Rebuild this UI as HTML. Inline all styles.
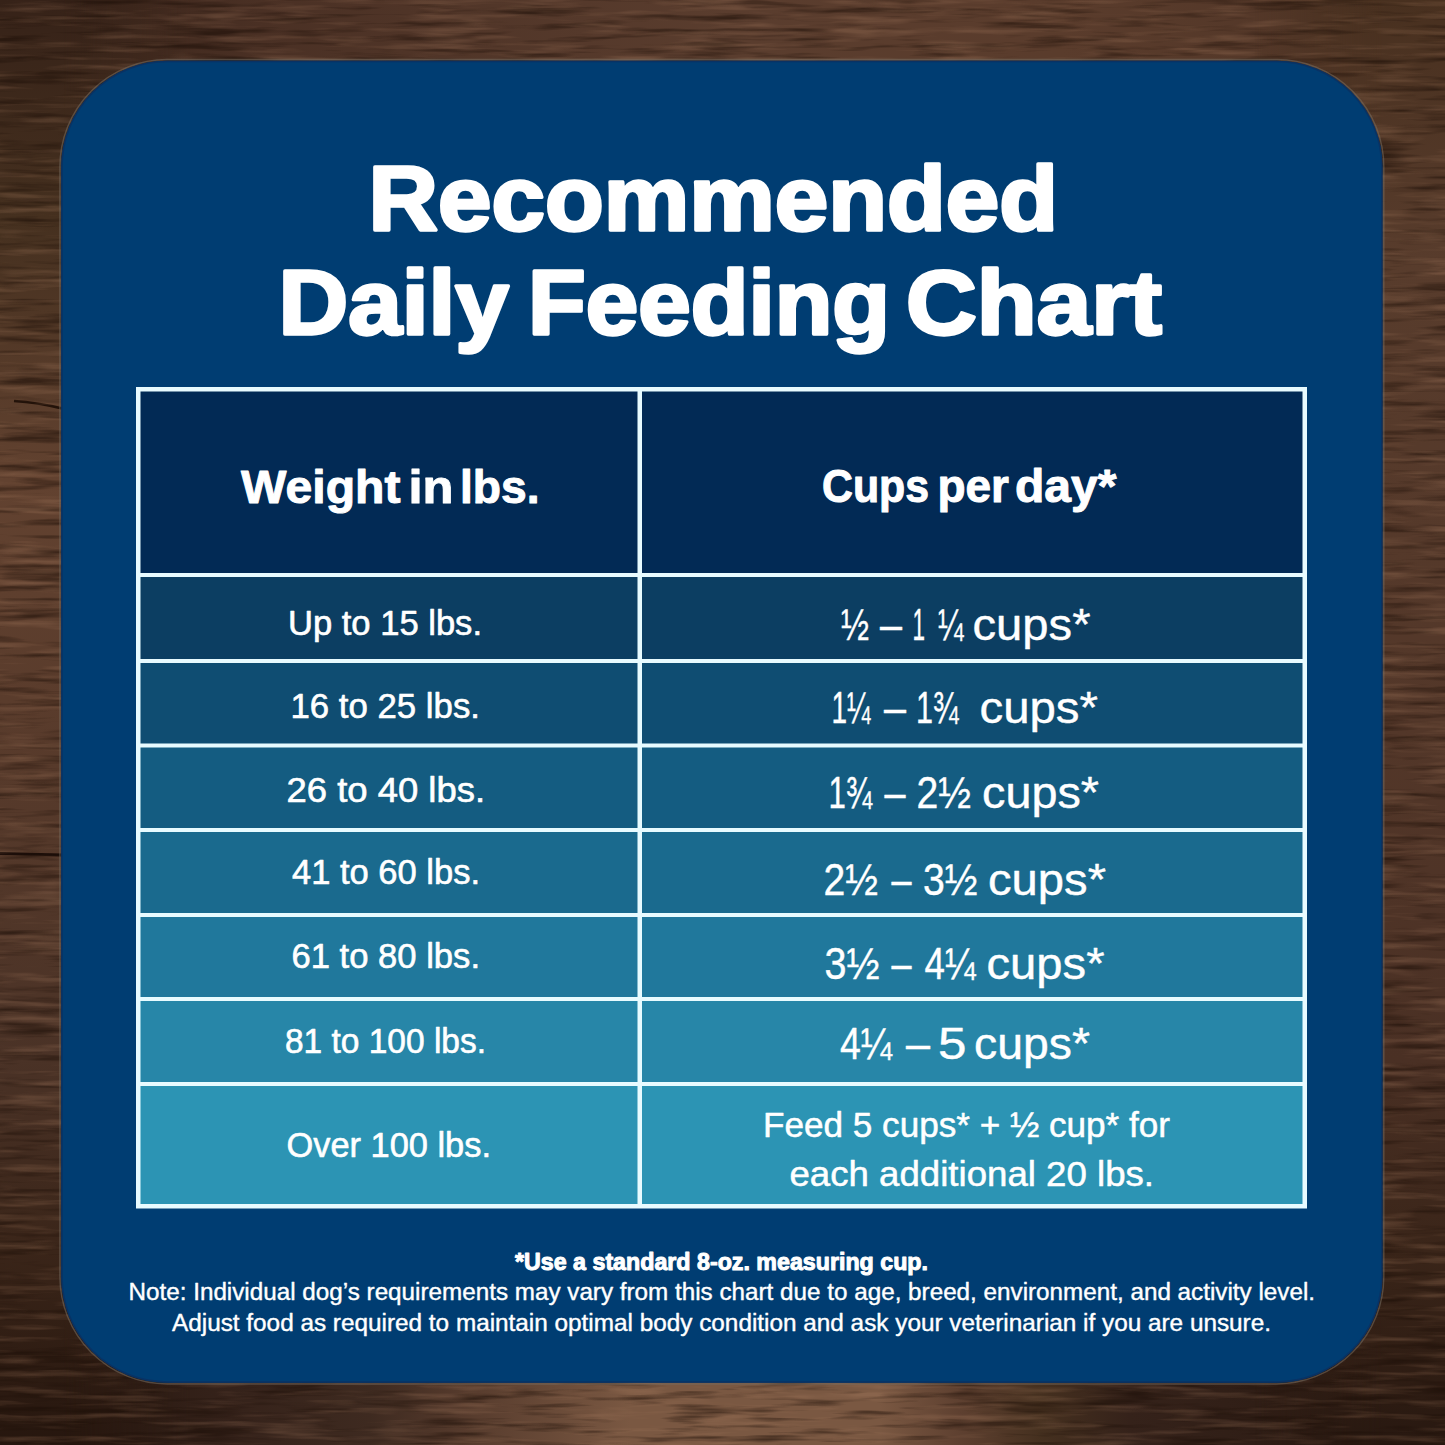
<!DOCTYPE html>
<html><head><meta charset="utf-8">
<style>
html,body{margin:0;padding:0;width:1445px;height:1445px;overflow:hidden;background:#5e3f2e}
svg{display:block}
text{font-family:"Liberation Sans",sans-serif;fill:#fff;stroke:#fff;stroke-linejoin:round}
.b{font-weight:bold}
</style></head><body>
<svg width="1445" height="1445" viewBox="0 0 1445 1445">
<defs>
<filter id="soft" x="-20%" y="-20%" width="140%" height="140%"><feGaussianBlur stdDeviation="20"/></filter>
<filter id="grainD" x="0" y="0" width="100%" height="100%" color-interpolation-filters="sRGB">
<feTurbulence type="fractalNoise" baseFrequency="0.012 0.14" numOctaves="3" seed="11" result="n"/>
<feColorMatrix in="SourceGraphic" type="matrix" values="1 0 0 0 0  0 1 0 0 0  0 0 1 0 0  0 0 0 0 1" result="c"/>
<feColorMatrix in="n" type="matrix" values="0 0 0 0 0  0 0 0 0 0  0 0 0 0 0  -3 0 0 0 1.5" result="a"/>
<feComposite in="c" in2="a" operator="in"/>
</filter>
<filter id="grainL" x="0" y="0" width="100%" height="100%" color-interpolation-filters="sRGB">
<feTurbulence type="fractalNoise" baseFrequency="0.012 0.14" numOctaves="3" seed="23" result="n"/>
<feColorMatrix in="SourceGraphic" type="matrix" values="1 0 0 0 0  0 1 0 0 0  0 0 1 0 0  0 0 0 0 1" result="c"/>
<feColorMatrix in="n" type="matrix" values="0 0 0 0 0  0 0 0 0 0  0 0 0 0 0  3 0 0 0 -1.5" result="a"/>
<feComposite in="c" in2="a" operator="in"/>
</filter>
</defs>


<defs><linearGradient id="gt" gradientUnits="userSpaceOnUse" x1="0" y1="0" x2="1445" y2="0"><stop offset="0.0000" stop-color="#362218"/><stop offset="0.1799" stop-color="#4a3024"/><stop offset="0.5052" stop-color="#5a3d2e"/><stop offset="0.7336" stop-color="#5a3c2c"/><stop offset="0.8997" stop-color="#533728"/><stop offset="1.0000" stop-color="#48301f"/></linearGradient><linearGradient id="gl" gradientUnits="userSpaceOnUse" x1="0" y1="0" x2="0" y2="1445"><stop offset="0.0000" stop-color="#362218"/><stop offset="0.1522" stop-color="#45301f"/><stop offset="0.3322" stop-color="#624230"/><stop offset="0.4844" stop-color="#5a3c2c"/><stop offset="0.7336" stop-color="#4a3226"/><stop offset="0.8651" stop-color="#3a2519"/><stop offset="1.0000" stop-color="#26160e"/></linearGradient><linearGradient id="gr" gradientUnits="userSpaceOnUse" x1="0" y1="0" x2="0" y2="1445"><stop offset="0.0000" stop-color="#48301f"/><stop offset="0.1799" stop-color="#583c2c"/><stop offset="0.5052" stop-color="#533729"/><stop offset="0.7336" stop-color="#4a3024"/><stop offset="0.8651" stop-color="#3a2519"/><stop offset="1.0000" stop-color="#281810"/></linearGradient><linearGradient id="gb" gradientUnits="userSpaceOnUse" x1="0" y1="0" x2="1445" y2="0"><stop offset="0.0000" stop-color="#26160e"/><stop offset="0.1592" stop-color="#35221a"/><stop offset="0.2561" stop-color="#3e2a20"/><stop offset="0.3183" stop-color="#553a2c"/><stop offset="0.4360" stop-color="#7a5842"/><stop offset="0.6090" stop-color="#7a5842"/><stop offset="0.6644" stop-color="#5e4030"/><stop offset="0.7197" stop-color="#45301f"/><stop offset="0.7820" stop-color="#35221a"/><stop offset="1.0000" stop-color="#281810"/></linearGradient></defs>
<defs>
<linearGradient id="mgt" gradientUnits="userSpaceOnUse" x1="0" y1="62" x2="0" y2="190"><stop offset="0" stop-color="#fff"/><stop offset="1" stop-color="#000"/></linearGradient>
<linearGradient id="mgb" gradientUnits="userSpaceOnUse" x1="0" y1="1383" x2="0" y2="1255"><stop offset="0" stop-color="#fff"/><stop offset="1" stop-color="#000"/></linearGradient>
<linearGradient id="mgl" gradientUnits="userSpaceOnUse" x1="62" y1="0" x2="190" y2="0"><stop offset="0" stop-color="#fff"/><stop offset="1" stop-color="#000"/></linearGradient>
<linearGradient id="mgr" gradientUnits="userSpaceOnUse" x1="1383" y1="0" x2="1255" y2="0"><stop offset="0" stop-color="#fff"/><stop offset="1" stop-color="#000"/></linearGradient>
<mask id="mt" maskUnits="userSpaceOnUse" x="0" y="0" width="1445" height="1445"><rect x="0" y="0" width="1445" height="1445" fill="url(#mgt)"/></mask>
<mask id="mb" maskUnits="userSpaceOnUse" x="0" y="0" width="1445" height="1445"><rect x="0" y="0" width="1445" height="1445" fill="url(#mgb)"/></mask>
<mask id="ml" maskUnits="userSpaceOnUse" x="0" y="0" width="1445" height="1445"><rect x="0" y="0" width="1445" height="1445" fill="url(#mgl)"/></mask>
<mask id="mr" maskUnits="userSpaceOnUse" x="0" y="0" width="1445" height="1445"><rect x="0" y="0" width="1445" height="1445" fill="url(#mgr)"/></mask>
</defs>
<rect x="0" y="0" width="1445" height="1445" fill="#553a2b"/>
<rect x="0" y="0" width="1445" height="200" fill="url(#gt)" mask="url(#mt)"/>
<rect x="0" y="1245" width="1445" height="200" fill="url(#gb)" mask="url(#mb)"/>
<rect x="0" y="0" width="200" height="1445" fill="url(#gl)" mask="url(#ml)"/>
<rect x="1245" y="0" width="200" height="1445" fill="url(#gr)" mask="url(#mr)"/>
<path d="M14 401 Q38 402.5 62 408.5" stroke="#1c0d06" stroke-width="2.4" fill="none" opacity="0.9"/>
<path d="M0 853.5 Q30 854 62 855" stroke="#160a05" stroke-width="3" fill="none" opacity="0.9"/>
<rect x="0" y="0" width="1445" height="1445" fill="#1a0d06" filter="url(#grainD)" opacity="0.55"/>
<rect x="0" y="0" width="1445" height="1445" fill="#c09070" filter="url(#grainL)" opacity="0.22"/>

<rect x="59.9" y="59.5" width="1323.9" height="1324.5" rx="107.3" ry="107.3" fill="none" stroke="#776e62" stroke-opacity="0.55" stroke-width="1.4"/>
<rect x="61.2" y="60.8" width="1321.3" height="1321.9" rx="106" ry="106" fill="#003d72"/>
<rect x="62.0" y="61.6" width="1319.7" height="1320.3" rx="105.2" ry="105.2" fill="none" stroke="#0b3060" stroke-opacity="0.8" stroke-width="1.5"/>
<rect x="136" y="387" width="1171" height="190" fill="#022a55"/>
<rect x="136" y="575" width="1171" height="86" fill="#0c3e62"/>
<rect x="136" y="661" width="1171" height="84" fill="#0f4d72"/>
<rect x="136" y="745" width="1171" height="85" fill="#145c81"/>
<rect x="136" y="830" width="1171" height="85" fill="#1a6a8e"/>
<rect x="136" y="915" width="1171" height="84" fill="#20789c"/>
<rect x="136" y="999" width="1171" height="85" fill="#2786a8"/>
<rect x="136" y="1084" width="1171" height="122" fill="#2c94b4"/>
<g fill="#e8fbff">
<rect x="136" y="387" width="1171" height="4.5"/>
<rect x="136" y="1204" width="1171" height="4.5"/>
<rect x="136" y="387" width="4.5" height="821"/>
<rect x="1302.5" y="387" width="4.5" height="821"/>
<rect x="637.5" y="387" width="4.5" height="821"/>
<rect x="136" y="573" width="1171" height="4"/>
<rect x="136" y="659" width="1171" height="4"/>
<rect x="136" y="743.5" width="1171" height="4"/>
<rect x="136" y="828" width="1171" height="4"/>
<rect x="136" y="913" width="1171" height="4"/>
<rect x="136" y="997" width="1171" height="4"/>
<rect x="136" y="1082" width="1171" height="4"/>
</g>
<text class="b" x="368.5" y="230.4" font-size="90.5" textLength="689.5" lengthAdjust="spacingAndGlyphs" stroke-width="3.3">Recommended</text>
<text class="b" x="278.5" y="333.5" font-size="90.5" textLength="230.5" lengthAdjust="spacingAndGlyphs" stroke-width="3.3">Daily</text>
<text class="b" x="528" y="333.5" font-size="90.5" textLength="362" lengthAdjust="spacingAndGlyphs" stroke-width="3.3">Feeding</text>
<text class="b" x="906" y="333.5" font-size="90.5" textLength="256" lengthAdjust="spacingAndGlyphs" stroke-width="3.3">Chart</text>
<text class="b" x="241.0" y="502.75" font-size="45.8" textLength="159.5" lengthAdjust="spacingAndGlyphs" stroke-width="1.0">Weight</text>
<text class="b" x="408.5" y="502.75" font-size="45.8" textLength="45.0" lengthAdjust="spacingAndGlyphs" stroke-width="1.0">in</text>
<text class="b" x="460" y="502.75" font-size="45.8" textLength="79.5" lengthAdjust="spacingAndGlyphs" stroke-width="1.0">lbs.</text>
<text class="b" x="822" y="502.3" font-size="45.8" textLength="107.0" lengthAdjust="spacingAndGlyphs" stroke-width="1.0">Cups</text>
<text class="b" x="937.5" y="502.3" font-size="45.8" textLength="71.5" lengthAdjust="spacingAndGlyphs" stroke-width="1.0">per</text>
<text class="b" x="1015" y="502.3" font-size="45.8" textLength="101.5" lengthAdjust="spacingAndGlyphs" stroke-width="1.0">day*</text>
<text x="288.0" y="635.2" font-size="34.3" textLength="194.0" lengthAdjust="spacingAndGlyphs" stroke-width="0.6">Up to 15 lbs.</text>
<text x="290.5" y="718" font-size="34.3" textLength="189.5" lengthAdjust="spacingAndGlyphs" stroke-width="0.6">16 to 25 lbs.</text>
<text x="286.5" y="802" font-size="34.3" textLength="198.5" lengthAdjust="spacingAndGlyphs" stroke-width="0.6">26 to 40 lbs.</text>
<text x="292.0" y="884.2" font-size="34.3" textLength="188.0" lengthAdjust="spacingAndGlyphs" stroke-width="0.6">41 to 60 lbs.</text>
<text x="291.5" y="968.4" font-size="34.3" textLength="188.5" lengthAdjust="spacingAndGlyphs" stroke-width="0.6">61 to 80 lbs.</text>
<text x="285.0" y="1053.3" font-size="34.3" textLength="201.0" lengthAdjust="spacingAndGlyphs" stroke-width="0.6">81 to 100 lbs.</text>
<text x="286.5" y="1157" font-size="34.3" textLength="204.5" lengthAdjust="spacingAndGlyphs" stroke-width="0.6">Over 100 lbs.</text>
<text x="841.0" y="639.8" font-size="43.5" textLength="28.0" lengthAdjust="spacingAndGlyphs" stroke-width="0.4">½</text>
<text x="880.0" y="639.8" font-size="43.5" textLength="22.0" lengthAdjust="spacingAndGlyphs" stroke-width="0.4">–</text>
<text x="912.5" y="639.8" font-size="43.5" textLength="12.5" lengthAdjust="spacingAndGlyphs" stroke-width="0.4">1</text>
<text x="938.0" y="639.8" font-size="43.5" textLength="25.5" lengthAdjust="spacingAndGlyphs" stroke-width="0.4">¼</text>
<text x="972.5" y="639.8" font-size="43.5" textLength="118.0" lengthAdjust="spacingAndGlyphs" stroke-width="0.4">cups*</text>
<text x="831.5" y="723.2" font-size="43.5" textLength="39.0" lengthAdjust="spacingAndGlyphs" stroke-width="0.4">1¼</text>
<text x="884.0" y="723.2" font-size="43.5" textLength="22.0" lengthAdjust="spacingAndGlyphs" stroke-width="0.4">–</text>
<text x="916.0" y="723.2" font-size="43.5" textLength="42.5" lengthAdjust="spacingAndGlyphs" stroke-width="0.4">1¾</text>
<text x="979.5" y="723.2" font-size="43.5" textLength="118.5" lengthAdjust="spacingAndGlyphs" stroke-width="0.4">cups*</text>
<text x="828.5" y="807.5" font-size="43.5" textLength="43.5" lengthAdjust="spacingAndGlyphs" stroke-width="0.4">1¾</text>
<text x="884.5" y="807.5" font-size="43.5" textLength="21.0" lengthAdjust="spacingAndGlyphs" stroke-width="0.4">–</text>
<text x="916.5" y="807.5" font-size="43.5" textLength="54.5" lengthAdjust="spacingAndGlyphs" stroke-width="0.4">2½</text>
<text x="982.0" y="807.5" font-size="43.5" textLength="117.0" lengthAdjust="spacingAndGlyphs" stroke-width="0.4">cups*</text>
<text x="823.5" y="895.2" font-size="43.5" textLength="54.5" lengthAdjust="spacingAndGlyphs" stroke-width="0.4">2½</text>
<text x="891.5" y="895.2" font-size="43.5" textLength="20.0" lengthAdjust="spacingAndGlyphs" stroke-width="0.4">–</text>
<text x="923.0" y="895.2" font-size="43.5" textLength="54.5" lengthAdjust="spacingAndGlyphs" stroke-width="0.4">3½</text>
<text x="988.0" y="895.2" font-size="43.5" textLength="118.0" lengthAdjust="spacingAndGlyphs" stroke-width="0.4">cups*</text>
<text x="824.5" y="979" font-size="43.5" textLength="55.0" lengthAdjust="spacingAndGlyphs" stroke-width="0.4">3½</text>
<text x="891.5" y="979" font-size="43.5" textLength="20.0" lengthAdjust="spacingAndGlyphs" stroke-width="0.4">–</text>
<text x="924.5" y="979" font-size="43.5" textLength="51.0" lengthAdjust="spacingAndGlyphs" stroke-width="0.4">4¼</text>
<text x="986.5" y="979" font-size="43.5" textLength="118.0" lengthAdjust="spacingAndGlyphs" stroke-width="0.4">cups*</text>
<text x="840.0" y="1058.5" font-size="43.5" textLength="52.0" lengthAdjust="spacingAndGlyphs" stroke-width="0.4">4¼</text>
<text x="906.0" y="1058.5" font-size="43.5" textLength="24.0" lengthAdjust="spacingAndGlyphs" stroke-width="0.4">–</text>
<text x="938.0" y="1058.5" font-size="43.5" textLength="28.5" lengthAdjust="spacingAndGlyphs" stroke-width="0.4">5</text>
<text x="974.0" y="1058.5" font-size="43.5" textLength="116.0" lengthAdjust="spacingAndGlyphs" stroke-width="0.4">cups*</text>
<text x="763.0" y="1136.6" font-size="34.7" textLength="407.0" lengthAdjust="spacingAndGlyphs" stroke-width="0.5">Feed 5 cups* + ½ cup* for</text>
<text x="789.5" y="1185.7" font-size="34.7" textLength="364.5" lengthAdjust="spacingAndGlyphs" stroke-width="0.5">each additional 20 lbs.</text>
<text class="b" x="515.0" y="1270.2" font-size="23.5" textLength="413.0" lengthAdjust="spacingAndGlyphs" stroke="none">*Use a standard 8-oz. measuring cup.</text>
<text x="128.5" y="1300" font-size="24.2" textLength="1186.5" lengthAdjust="spacingAndGlyphs" stroke-width="0.4">Note: Individual dog’s requirements may vary from this chart due to age, breed, environment, and activity level.</text>
<text x="172.0" y="1330.5" font-size="24.2" textLength="1099.0" lengthAdjust="spacingAndGlyphs" stroke-width="0.4">Adjust food as required to maintain optimal body condition and ask your veterinarian if you are unsure.</text>
</svg>
</body></html>
